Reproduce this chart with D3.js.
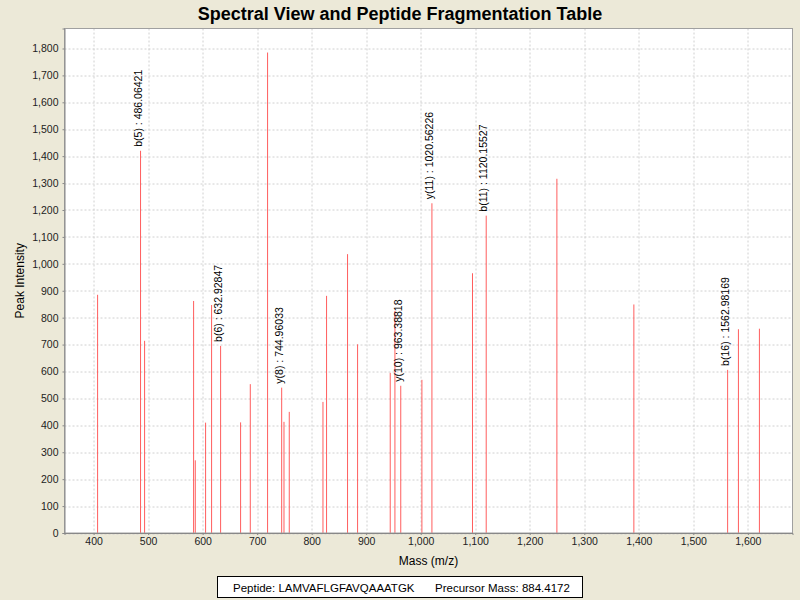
<!DOCTYPE html>
<html>
<head>
<meta charset="utf-8">
<script src="https://cdn.jsdelivr.net/npm/d3@7"></script>
<style>
  body { margin: 0; background: #ECE9D8; }
  svg { display: block; font-family: "Liberation Sans", Arial, sans-serif; }
</style>
</head>
<body>
<script>
// Peaks of the spectrum (m/z and intensity)
const peakMz = [407.3, 486.06421, 493.5, 583.4, 586.5, 605.4, 616.4, 632.92847,
  669.6, 687.4, 719.1, 744.96033, 749.2, 758.9, 820.7, 827.3, 865.8, 884.2,
  944.1, 952.7, 963.38818, 1002.2, 1020.56226, 1095.0, 1120.15527, 1249.8,
  1391.0, 1562.98169, 1582.8, 1621.3];
const peakIntensity = [885, 1420, 714, 862, 270, 410, 847, 695,
  411, 553, 1785, 540, 413, 450, 487, 881, 1036, 701,
  595, 825, 547, 569, 1225, 965, 1179, 1316,
  849, 606, 757, 759];

// Matched fragment ions
const ionNames = ["b(5)", "b(6)", "y(8)", "y(10)", "y(11)", "b(11)", "b(16)"];
const ionMz = [486.06421, 632.92847, 744.96033, 963.38818, 1020.56226, 1120.15527, 1562.98169];

const xTicks = [400, 500, 600, 700, 800, 900, 1000, 1100, 1200, 1300, 1400, 1500, 1600];
const yTicks = [0, 100, 200, 300, 400, 500, 600, 700, 800, 900, 1000, 1100, 1200, 1300, 1400, 1500, 1600, 1700, 1800];

const peptide = "LAMVAFLGFAVQAAATGK";
const precursorMass = "884.4172";

// Plot area (JFreeChart-like layout)
const margin = {top: 28.5, right: 7.5, bottom: 67, left: 64.5};
const W = 800, H = 600;
const width = W - margin.left - margin.right,
      height = H - margin.top - margin.bottom;

const svg = d3.select("body").append("svg")
  .attr("width", W)
  .attr("height", H);

svg.append("rect").attr("width", W).attr("height", H).attr("fill", "#ECE9D8");

// auto range with 5% margins, like the original
const [mzMin, mzMax] = d3.extent(peakMz);
const pad = (mzMax - mzMin) * 0.05;
const xScale = d3.scaleLinear()
  .domain([mzMin - pad, mzMax + pad])
  .range([0, width]);
const yScale = d3.scaleLinear()
  .domain([0, d3.max(peakIntensity) * 1.05])
  .range([height, 0]);

const g = svg.append("g")
  .attr("transform", `translate(${margin.left},${margin.top})`);

g.append("rect")
  .attr("width", width).attr("height", height)
  .attr("fill", "white");

// Grid lines
g.append("g").selectAll("line").data(xTicks).join("line")
  .attr("x1", d => Math.round(xScale(d)) + 0.5).attr("x2", d => Math.round(xScale(d)) + 0.5)
  .attr("y1", 0).attr("y2", height)
  .attr("stroke", "#d0d0d0").attr("stroke-dasharray", "2,2");
g.append("g").selectAll("line").data(yTicks).join("line")
  .attr("y1", d => Math.round(yScale(d)) + 0.5).attr("y2", d => Math.round(yScale(d)) + 0.5)
  .attr("x1", 0).attr("x2", width)
  .attr("stroke", "#d0d0d0").attr("stroke-dasharray", "2,2");

// Peaks
g.append("g").selectAll("rect").data(peakMz).join("rect")
  .attr("x", d => xScale(d) - 0.5)
  .attr("width", 1)
  .attr("y", (d, i) => yScale(peakIntensity[i]))
  .attr("height", (d, i) => height - yScale(peakIntensity[i]))
  .attr("fill", "#ff4d4d")
  .attr("fill-opacity", 0.9);

// Ion labels, rotated, above their peaks
g.append("g").selectAll("text").data(ionMz).join("text")
  .attr("transform", (d, i) => {
    const k = peakMz.indexOf(d);
    return `translate(${xScale(d) + 1.2},${yScale(peakIntensity[k]) - 4}) rotate(-90)`;
  })
  .attr("font-size", 10.5)
  .attr("fill", "black")
  .text((d, i) => `${ionNames[i]} : ${d.toFixed(5)}`);

// Plot outline
g.append("rect")
  .attr("width", width).attr("height", height)
  .attr("fill", "none").attr("stroke", "#a0a0a0");

// Axes
const xAxis = g.append("g")
  .attr("transform", `translate(0,${height})`)
  .call(d3.axisBottom(xScale).tickValues(xTicks).tickFormat(d3.format(",")).tickSize(2).tickPadding(3));
const yAxis = g.append("g")
  .call(d3.axisLeft(yScale).tickValues(yTicks).tickFormat(d3.format(",")).tickSize(2).tickPadding(4));

[xAxis, yAxis].forEach(ax => {
  ax.select(".domain").attr("stroke", "#888");
  ax.selectAll(".tick line").attr("stroke", "#888");
  ax.selectAll(".tick text")
    .attr("font-size", 10.5)
    .attr("font-family", "'Liberation Sans', Arial, sans-serif")
    .attr("fill", "#222");
});

// Axis titles
svg.append("text")
  .attr("x", margin.left + width / 2).attr("y", 565)
  .attr("text-anchor", "middle")
  .attr("font-size", 12)
  .text("Mass (m/z)");
svg.append("text")
  .attr("transform", `translate(24,${margin.top + height / 2}) rotate(-90)`)
  .attr("text-anchor", "middle")
  .attr("font-size", 12)
  .text("Peak Intensity");

// Title
svg.append("text")
  .attr("x", 400).attr("y", 19.5)
  .attr("text-anchor", "middle")
  .attr("font-size", 18)
  .attr("font-weight", "bold")
  .text("Spectral View and Peptide Fragmentation Table");

// Subtitle box
svg.append("rect")
  .attr("x", 217.5).attr("y", 576.5)
  .attr("width", 365).attr("height", 21)
  .attr("fill", "white").attr("stroke", "black");
svg.append("text")
  .attr("x", 233).attr("y", 591.5)
  .attr("font-size", 11.5)
  .text(`Peptide: ${peptide}`);
svg.append("text")
  .attr("x", 435).attr("y", 591.5)
  .attr("font-size", 11.5)
  .text(`Precursor Mass: ${precursorMass}`);
</script>
</body>
</html>
